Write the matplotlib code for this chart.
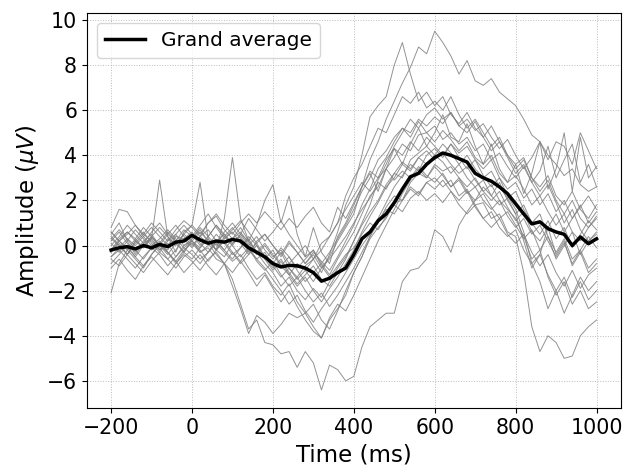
import matplotlib.pyplot as plt
import numpy as np

# time axis, one sample every 20 ms
times = np.arange(-200, 1001, 20)

# single subject ERPs (uV)
s01 = [0.2, 0.6, 0.1, -0.3, 0.2, 0.5, 0.0, -0.2, 0.4, 0.3,
       -0.1, 0.4, 0.1, -0.4, -0.8, -1.5, -2.6, -3.7, -3.3, -4.3,
       -4.4, -4.8, -4.7, -5.4, -4.7, -5.2, -6.4, -5.3, -5.5, -6.0,
       -5.8, -4.5, -3.6, -3.3, -3.0, -3.0, -1.6, -1.1, -1.0, -0.6,
       0.7, 0.4, -0.3, 0.9, 1.5, 2.0, 2.6, 2.2, 2.8, 2.0,
       1.4, 0.2, -1.0, -0.4, 0.8, 1.4, 0.6, 1.2, 1.8, 1.0,
       1.5]
s02 = [-0.3, 0.1, -0.4, 0.2, -0.1, 0.3, -0.2, 0.1, -0.5, 0.0,
       0.2, -0.3, -0.1, -0.6, -0.8, -1.8, -2.8, -3.9, -3.1, -3.4,
       -3.9, -3.5, -3.0, -3.2, -3.0, -3.6, -4.1, -3.3, -2.8, -2.2,
       -1.2, -0.5, 0.3, 0.8, 1.2, 1.9, 2.0, 2.6, 2.3, 2.8,
       3.0, 2.6, 2.9, 2.2, 2.5, 1.8, 1.9, 1.2, 1.4, 0.6,
       0.4, -1.2, -3.6, -4.7, -4.0, -4.3, -5.0, -4.9, -4.0, -3.6,
       -3.3]
s03 = [0.5, 1.0, 0.2, -0.4, 0.1, 0.3, 2.9, 0.4, -0.3, 0.6,
       0.9, 2.8, 0.3, -0.2, 1.2, 3.9, 1.2, 0.2, 0.9, 2.0,
       2.7, 1.0, 2.2, 0.5, -0.5, 0.8, -0.3, -0.8, 0.4, 1.0,
       1.8, 2.6, 3.2, 2.4, 3.4, 4.3, 3.6, 4.5, 5.2, 4.4,
       5.0, 5.8, 4.8, 4.6, 5.4, 4.4, 3.6, 4.5, 3.4, 2.8,
       3.6, 2.3, 3.2, 4.6, 2.5, 3.4, 5.0, 2.4, 4.8, 3.0,
       3.5]
s04 = [0.3, 0.0, -0.4, 0.2, 0.6, 0.1, -0.3, 0.2, 0.5, 0.0,
       0.3, 0.7, 0.2, -0.2, 0.4, 0.8, 0.3, -0.3, 0.1, -0.5,
       -0.8, -0.3, -1.0, -1.4, -0.9, -0.6, -1.2, -0.4, 0.6, 1.8,
       2.6, 4.0, 5.7, 6.2, 6.6, 8.0, 9.0, 7.6, 6.4, 6.8,
       6.2, 6.6, 5.8, 5.4, 5.9, 5.2, 4.8, 5.3, 4.6, 4.0,
       3.6, 3.9, 3.0, 2.6, 3.1, 2.2, 1.8, 2.4, 1.6, 1.2,
       1.8]
s05 = [-0.2, 0.3, 0.6, 0.2, -0.1, 0.4, 0.0, -0.4, 0.1, 0.5,
       0.2, -0.1, 0.4, 0.9, 0.4, 0.0, 0.5, 0.2, -0.3, -0.6,
       -0.2, -0.9, -1.3, -0.8, -1.1, -1.6, -1.0, -0.5, 0.2, 0.8,
       1.4, 2.6, 3.8, 4.6, 5.6, 6.4, 7.2, 7.9, 8.8, 8.5,
       9.5, 9.0, 8.4, 7.6, 8.2, 7.3, 7.1, 7.4, 6.8, 6.5,
       6.2, 5.6, 4.9, 4.6, 4.0, 3.6, 3.1, 3.4, 2.7, 2.4,
       2.6]
s06 = [0.6, 0.2, -0.2, 0.3, 0.8, 0.4, 0.0, 0.5, 0.9, 0.4,
       0.0, 0.4, 0.7, 0.2, -0.2, 0.3, 0.6, 0.1, -0.4, 0.0,
       -0.5, -0.2, -0.8, -0.4, 0.0, -0.6, 0.1, 0.4, 1.0, 2.2,
       3.0, 3.6, 4.4, 5.2, 5.0, 5.8, 6.6, 6.3, 6.8, 6.1,
       6.4, 6.0, 6.6, 5.8, 5.2, 5.6, 5.0, 4.4, 4.8, 4.0,
       3.4, 3.8, 3.0, 2.4, 2.9, 2.0, 1.4, 2.0, 1.2, 0.8,
       1.3]
s07 = [-0.5, -0.1, 0.3, -0.2, -0.6, -0.1, 0.2, -0.3, -0.7, -0.2,
       0.1, -0.3, 0.0, 0.5, 0.1, -0.4, -0.1, 0.4, 0.0, -0.5,
       -1.0, -0.6, -1.2, -1.7, -1.3, -0.9, -1.5, -1.8, -1.2, -0.6,
       0.2, 1.0, 1.8, 2.9, 3.6, 4.4, 5.0, 5.6, 5.2, 5.8,
       6.1, 5.6, 5.9, 5.3, 5.0, 5.5, 4.8, 4.2, 4.6, 3.9,
       3.2, 3.6, 2.8, 2.2, 2.7, 1.9, 1.0, 1.6, 0.7, 0.2,
       0.6]
s08 = [0.1, -0.3, 0.2, 0.7, 0.3, -0.2, 0.1, 0.6, 0.2, -0.3,
       0.3, 0.8, 0.4, 0.0, 0.6, 1.0, 0.5, 0.0, 0.4, -0.2,
       -0.6, -0.1, -0.5, -1.0, -0.6, -0.2, -0.8, -0.3, 0.3, 0.9,
       1.6, 2.4, 3.0, 3.8, 4.2, 4.8, 5.2, 5.0, 5.6, 5.3,
       5.7, 5.4, 5.9, 5.3, 5.6, 5.1, 5.4, 4.8, 4.3, 4.7,
       4.0, 3.4, 3.9, 4.6, 3.8, 4.6, 4.4, 3.6, 5.0, 4.2,
       3.4]
s09 = [0.8, 1.6, 1.5, 0.9, 0.5, 1.0, 0.6, 0.2, 0.7, 1.1,
       0.8, 0.4, 1.0, 1.3, 0.7, 0.3, 0.8, 0.2, -0.3, 0.1,
       -0.4, -0.9, -0.5, -1.1, -1.6, -1.2, -0.8, -1.3, -0.6, 0.0,
       0.6, 1.4, 2.2, 2.6, 3.4, 3.9, 4.5, 4.2, 4.9, 5.0,
       4.6, 5.1, 4.7, 4.2, 4.6, 3.9, 3.6, 4.0, 3.2, 2.8,
       3.1, 2.5, 1.8, 2.2, 1.5, 0.9, 1.4, 0.6, 0.2, 0.8,
       1.2]
s10 = [-0.6, -0.9, -0.4, -0.8, -1.2, -0.7, -0.3, -0.6, -1.0, -0.5,
       -0.2, -0.6, -0.3, 0.2, -0.2, -0.6, -0.1, 0.3, -0.3, -0.8,
       -1.2, -1.8, -1.4, -2.0, -2.4, -1.9, -2.3, -1.6, -1.0, -0.5,
       0.2, 0.9, 1.5, 2.0, 2.7, 3.2, 3.0, 3.8, 4.1, 4.4,
       4.0, 4.5, 4.1, 3.6, 4.0, 3.4, 3.0, 3.3, 2.6, 2.1,
       2.4, 1.6, 1.0, 1.4, 0.4, -0.3, 0.3, -0.6, -0.2, -1.0,
       -0.6]
s11 = [0.0, 0.4, 0.9, 0.5, 0.1, 0.6, 1.0, 0.5, 0.2, 0.7,
       0.4, 0.9, 1.4, 0.8, 0.3, 0.7, 1.1, 0.6, 0.1, 0.5,
       0.0, -0.4, 0.2, -0.3, -0.8, -0.4, -1.0, -0.6, -0.1, 0.4,
       1.0, 1.6, 2.1, 2.8, 2.5, 3.2, 3.7, 3.4, 3.9, 4.2,
       3.8, 4.1, 3.6, 3.2, 3.5, 2.9, 2.4, 2.7, 2.0, 1.6,
       1.2, 0.4, -0.6, -0.2, -1.4, -2.2, -1.6, -2.6, -2.0, -2.8,
       -2.5]
s12 = [-0.3, 0.2, -0.1, -0.5, 0.0, 0.4, -0.1, -0.6, -0.2, 0.3,
       0.6, 0.1, -0.3, 0.2, 0.5, 0.0, -0.5, -0.1, -0.7, -1.1,
       -0.7, -1.3, -1.8, -1.4, -2.0, -2.5, -2.1, -2.7, -2.2, -1.6,
       -1.0, -0.3, 0.4, 1.0, 1.7, 2.2, 2.0, 2.8, 3.2, 3.0,
       3.6, 3.3, 3.5, 3.0, 2.6, 3.0, 2.4, 2.0, 2.4, 1.7,
       1.1, 1.5, 0.6, 0.2, 0.8, -0.4, 0.2, -0.9, -0.3, -1.2,
       -0.8]
s13 = [0.4, 0.0, -0.4, 0.1, 0.5, 0.2, -0.2, 0.3, 0.1, -0.3,
       -0.6, -0.1, 0.3, -0.2, -0.5, 0.1, 0.4, -0.1, -0.6, -0.3,
       -0.9, -1.4, -1.0, -1.5, -1.1, -0.6, -0.2, 0.4, 1.0, 1.6,
       2.2, 2.8, 2.4, 3.0, 3.4, 2.9, 3.3, 3.0, 3.5, 3.1,
       2.8, 3.2, 2.6, 2.9, 2.3, 2.6, 2.0, 1.6, 2.0, 1.3,
       0.8, 1.2, 0.5, 0.9, 0.2, -0.5, 0.1, -0.8, -0.2, 0.4,
       -0.1]
s14 = [-1.0, -0.6, -1.1, -1.5, -0.9, -0.5, -0.9, -1.3, -0.8, -0.4,
       -0.7, -1.1, -0.6, -0.3, -0.8, -1.2, -0.7, -0.2, -0.6, -1.0,
       -1.5, -2.0, -2.6, -2.2, -2.9, -3.4, -2.8, -2.3, -1.8, -1.2,
       -0.6, 0.0, 0.5, 1.1, 1.6, 1.4, 2.0, 2.5, 2.2, 2.8,
       2.5, 2.9, 2.4, 2.0, 2.4, 1.7, 1.2, 1.5, 0.8, 0.4,
       0.7, -0.2, -0.8, -0.4, -1.3, -2.0, -1.4, -2.3, -1.6, -2.4,
       -2.0]
s15 = [0.3, 0.7, 0.3, 0.0, 0.4, 0.8, 0.4, 0.0, 0.5, 0.9,
       0.5, 0.0, 0.4, 0.9, 0.5, 0.1, 0.5, 1.2, 0.7, 0.2,
       0.6, 1.1, 0.5, 0.0, -0.5, -0.2, -0.9, -1.4, -0.9, -0.4,
       -0.1, 0.5, 1.0, 0.7, 1.3, 1.8, 1.5, 2.1, 2.4, 2.0,
       2.3, 1.9, 2.4, 1.8, 1.4, 1.8, 1.2, 0.8, 1.2, 0.5,
       0.1, 0.5, -0.3, -0.9, -0.4, -1.2, -1.8, -1.1, -1.9, -1.3,
       -1.0]
s16 = [-0.2, 0.2, 0.6, 0.3, -0.1, 0.4, 0.8, 0.4, 0.0, 0.5,
       0.9, 0.5, 1.0, 1.4, 0.9, 0.5, 1.0, 1.4, 1.0, 1.5,
       1.1, 0.7, 1.2, 0.8, 1.3, 1.7, 1.0, 0.6, 1.7, 1.2,
       1.9, 2.6, 3.3, 3.0, 3.8, 4.3, 4.0, 4.6, 4.2, 4.8,
       4.4, 4.0, 4.5, 3.9, 3.4, 3.8, 3.1, 2.6, 3.0, 2.2,
       1.6, 0.6, -0.8, -1.6, -2.8, -2.0, -3.0, -2.2, -1.4, -2.0,
       -1.6]
s17 = [-0.5, -0.2, -0.6, -1.0, -0.5, -0.1, -0.4, -0.9, -0.5, -0.1,
       -0.4, -0.8, -0.3, 0.1, -0.3, -0.7, -0.4, -1.0, -1.5, -1.2,
       -1.8, -2.2, -1.7, -2.5, -3.0, -2.6, -3.3, -3.7, -2.9, -2.0,
       -1.2, -0.5, 0.4, 1.2, 1.9, 2.6, 3.1, 3.6, 3.3, 4.0,
       4.3, 3.9, 4.5, 4.1, 4.4, 3.8, 3.4, 3.8, 3.0, 2.5,
       2.8, 2.1, 2.5, 1.8, 2.3, 1.5, 2.0, 1.2, 1.7, 2.2,
       1.6]
s18 = [0.6, 0.2, 0.5, 0.9, 0.4, 0.0, 0.3, 0.7, 0.3, -0.1,
       0.2, 0.6, 0.2, -0.2, 0.3, 0.6, 0.1, -0.4, 0.2, 0.5,
       0.0, -0.5, 0.1, -0.3, -0.8, -0.3, -0.7, -1.1, -0.5, 0.2,
       0.9, 1.8, 2.5, 3.4, 3.9, 4.6, 5.2, 4.8, 5.5, 5.0,
       5.3, 4.7, 5.0, 4.5, 4.8, 4.2, 4.5, 3.8, 4.1, 3.5,
       3.0, 3.5, 2.8, 3.3, 4.4, 3.0, 3.8, 4.5, 2.8, 3.6,
       2.6]
s19 = [-0.8, -0.4, 0.0, -0.5, -0.9, -0.4, 0.0, -0.3, -0.7, -1.2,
       -0.8, -0.4, -0.9, -1.3, -0.8, -0.3, -0.7, -1.2, -1.8, -1.3,
       -1.9, -2.5, -2.0, -2.7, -3.3, -3.8, -4.1, -3.2, -2.6, -2.9,
       -2.2, -1.4, -0.6, 0.2, 0.9, 1.6, 2.3, 2.9, 3.4, 3.0,
       3.5, 3.1, 2.6, 3.0, 2.4, 2.0, 2.3, 1.7, 1.2, 1.5,
       0.9, 0.3, 0.7, -0.2, 0.4, -0.6, 0.0, 0.6, -0.4, 0.2,
       0.5]
s20 = [-2.1, -0.8, -0.2, -0.6, -1.0, -0.4, 0.1, -0.3, -0.8, -0.3,
       0.2, -0.2, -0.7, -0.2, 0.2, -0.3, -0.8, -0.4, 0.0, -0.6,
       -1.1, -0.7, -1.3, -1.8, -1.4, -2.0, -2.5, -1.9, -1.4, -0.8,
       -0.2, 0.6, 1.3, 1.9, 2.6, 3.0, 3.6, 3.3, 3.9, 3.6,
       4.0, 3.7, 3.2, 3.6, 3.0, 2.6, 2.9, 2.2, 1.8, 2.1,
       1.4, 1.8, 1.0, 0.5, 1.1, 0.3, 0.8, -0.1, 0.5, 1.1,
       0.7]

subjects = [s01, s02, s03, s04, s05, s06, s07, s08, s09, s10,
            s11, s12, s13, s14, s15, s16, s17, s18, s19, s20]

grand_average = [-0.2, -0.1, -0.05, -0.15, 0.0, -0.1, 0.05, -0.05, 0.15, 0.2,
                 0.45, 0.25, 0.1, 0.2, 0.15, 0.27, 0.2, -0.1, -0.3, -0.5,
                 -0.8, -0.95, -0.88, -0.9, -1.0, -1.2, -1.58, -1.45, -1.2, -1.0,
                 -0.4, 0.3, 0.6, 1.1, 1.4, 1.9, 2.5, 3.05, 3.2, 3.6,
                 3.9, 4.1, 4.0, 3.85, 3.7, 3.2, 3.0, 2.85, 2.6, 2.3,
                 1.85, 1.4, 0.96, 1.05, 0.75, 0.6, 0.5, 0.0, 0.38, 0.08,
                 0.3]

fig, ax = plt.subplots(figsize=(6.29, 4.70), dpi=100)

for s in subjects:
    ax.plot(times, s, color='grey', linewidth=0.7, alpha=0.85)
ax.plot(times, grand_average, color='black', linewidth=2.5, label='Grand average')

ax.set_xlim(-260, 1060)
ax.set_ylim(-7.2, 10.3)
ax.set_xticks(range(-200, 1001, 200))
ax.set_yticks(range(-6, 11, 2))
ax.grid(True, linestyle=':', linewidth=0.7, color='#bbbbbb')

ax.set_xlabel('Time (ms)', fontsize=16.5)
ax.set_ylabel(r'Amplitude ($\mu V$)', fontsize=16.5)
ax.tick_params(labelsize=14.8)
ax.legend(loc='upper left', fontsize=14.5)

plt.subplots_adjust(left=0.138, right=0.987, top=0.972, bottom=0.132)
plt.savefig('out.png', dpi=100)
